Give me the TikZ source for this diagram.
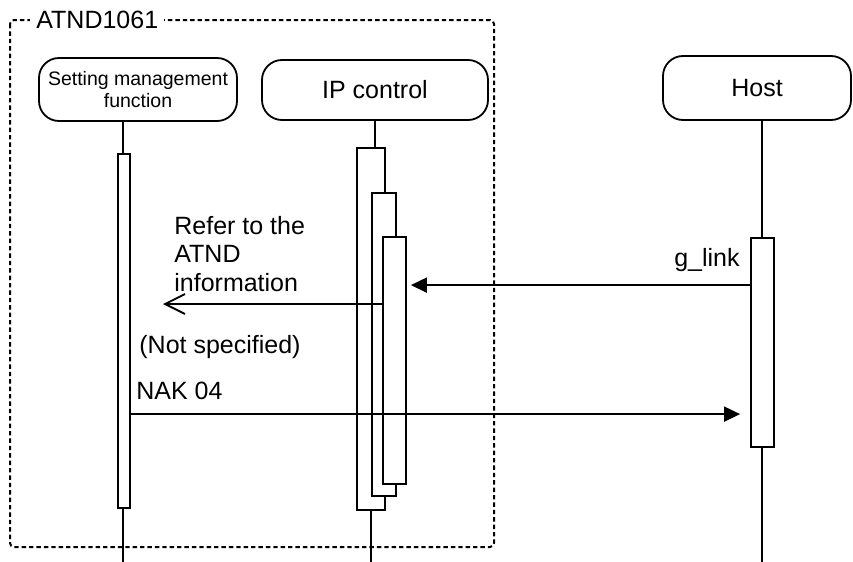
\documentclass[tikz,border=0pt]{standalone}
\usepackage{fontspec}
\setmainfont{Liberation Sans}
\usetikzlibrary{arrows.meta,positioning,calc}
\tikzset{
  >={Triangle[length=8pt,width=7.5pt]},
  actor/.style={draw, line width=0.9pt, rectangle, rounded corners=10pt, minimum height=30pt, align=center, font=\fontsize{12.5}{14}\selectfont},
  bar/.style={draw, line width=0.9pt, fill=white, rectangle, minimum width=6pt, inner sep=0pt},
  life/.style={line width=0.9pt},
  msg/.style={->, line width=0.9pt},
  reply/.style={-{Straight Barb[length=10pt,width=10pt]}, line width=0.9pt},
  frame/.style={line width=1pt, dash pattern=on 2.2pt off 1.5pt, rounded corners=2pt},
  lbl/.style={font=\fontsize{12.5}{14.2}\selectfont, inner sep=0pt},
}

\begin{document}
\begin{tikzpicture}[x=0.5pt,y=-0.5pt]
  \useasboundingbox (0,0) rectangle (853,562);
  % group frame
  \draw[frame] (10,20) rectangle (494,547);
  \node[lbl, fill=white, inner xsep=3pt, anchor=west] (grp) at (30,20) {ATND1061};

  % lifeline heads
  \node[actor, minimum width=99pt, minimum height=31.5pt, font=\fontsize{9.75}{11}\selectfont] (setf) at (138,89.5) {Setting management\\function};
  \node[actor, minimum width=113pt] (ipc) at (375,90) {IP control};
  \node[actor, minimum width=94pt, minimum height=32pt] (host) at (757,88) {Host};

  \coordinate (setend) at (123,562);
  \coordinate (ipend) at (372,562);
  \coordinate (hostend) at (762,562);

  % lifelines
  \draw[life] (setend |- setf.south) -- (setend);
  \draw[life] (hostend |- host.south) -- (hostend);

  % activations
  \node[bar, minimum height=177pt] (setbar) at (124,331) {};
  \node[bar, minimum width=14pt, minimum height=181pt] (bar1) at (371,329) {};
  \node[bar, minimum width=12pt, minimum height=151.5pt] (bar2) at (384,344.5) {};
  \node[bar, minimum width=11.5pt, minimum height=123.5pt] (bar3) at (394.5,360.5) {};
  \node[bar, minimum width=11.5pt, minimum height=104.5pt] (hostbar) at (762.5,342.5) {};

  \draw[life] (ipc.south) -- (ipc.south |- bar1.north);
  \draw[life] (bar1.south) -- (bar1.south |- ipend);

  % messages
  \coordinate (gl) at ([yshift=-24pt]hostbar.north west);
  \draw[msg, shorten >=2pt] (gl) -- (bar3.east |- gl);
  \node[lbl, anchor=base east] (glinklbl) at (740,266) {g\_link};

  \coordinate (refend) at (163,304);
  \draw[reply] (bar3.west |- refend) -- (refend);
  \node[lbl, align=left, anchor=north west] (referlbl) at (174,216) {Refer to the\\ATND\\information};

  \node[lbl, anchor=west] (nslbl) at (139,347) {(Not specified)};

  \coordinate (nak) at ([yshift=-130.5pt]setbar.north east);
  \draw[msg, shorten >=5pt] (nak) -- (hostbar.west |- nak);
  \node[lbl, anchor=west] (naklbl) at (136,391) {NAK 04};
\end{tikzpicture}
\end{document}
